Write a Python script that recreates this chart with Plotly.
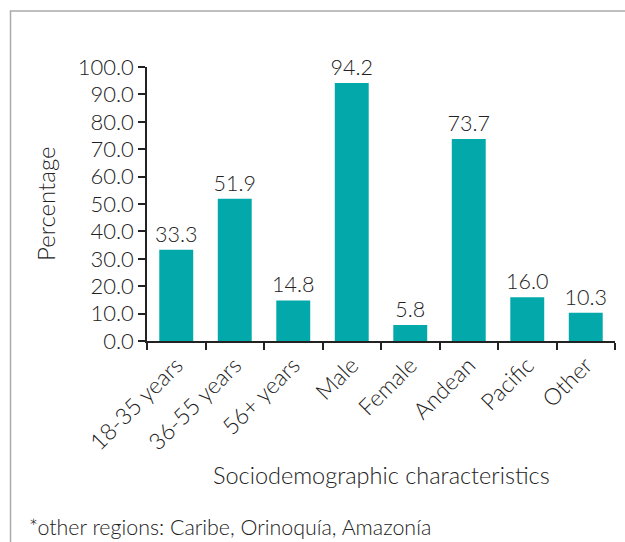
import plotly.graph_objects as go

categories = ["18-35 years", "36-55 years", "56+ years", "Male", "Female", "Andean", "Pacific", "Other"]
values = [33.3, 51.9, 14.8, 94.2, 5.8, 73.7, 16.0, 10.3]
y_ticks = [0, 10, 20, 30, 40, 50, 60, 70, 80, 90, 100]

FONT = "Lato"
TXT = "#222222"
WT = 300

W, H = 625, 542
L, R, T, B = 147, 10, 67, 201
pw = W - L - R
ph = H - T - B

def px_x(x):
    return (x - L) / pw

def px_y(y):
    return (H - B - y) / ph

fig = go.Figure(go.Bar(
    x=categories, y=values,
    marker=dict(color="#03A9AA", line=dict(width=0)),
    texttemplate="%{y:.1f}", textposition="outside", constraintext="none",
    textfont=dict(family=FONT, size=21.5, color=TXT, weight=WT),
    cliponaxis=False,
))

fig.update_layout(
    width=W, height=H,
    margin=dict(l=L, r=R, t=T, b=B),
    paper_bgcolor="white", plot_bgcolor="white",
    bargap=0.42,
    showlegend=False,
    font=dict(family=FONT, size=22, color=TXT, weight=WT),
)
fig.update_xaxes(
    showline=True, linecolor="#222", linewidth=1.5,
    ticks="outside", tickson="boundaries", ticklen=7, tickcolor="#222", tickwidth=1.5,
    tickangle=-45, tickfont=dict(family=FONT, size=23, color=TXT, weight=WT),
    showgrid=False,
)
fig.update_yaxes(
    range=[0, 100], tickvals=y_ticks, tickformat=".1f",
    showline=True, linecolor="#222", linewidth=1.5,
    ticks="outside", ticklen=7, tickcolor="#222", tickwidth=1.5,
    tickfont=dict(family=FONT, size=22, color=TXT, weight=WT),
    showgrid=False, zeroline=False,
)

fig.add_annotation(text="Sociodemographic characteristics", xref="paper", yref="paper",
                   x=0.5, y=px_y(475), showarrow=False,
                   font=dict(family=FONT, size=23.5, color=TXT, weight=WT), xanchor="center", yanchor="middle")
fig.add_annotation(text="Percentage", xref="paper", yref="paper",
                   x=px_x(45), y=0.5, textangle=-90, showarrow=False,
                   font=dict(family=FONT, size=24, color=TXT, weight=WT), xanchor="center", yanchor="middle")
fig.add_annotation(text="*other regions: Caribe, Orinoquía, Amazonía", xref="paper", yref="paper",
                   x=px_x(27), y=px_y(527), showarrow=False,
                   font=dict(family=FONT, size=21.4, color=TXT, weight=WT), xanchor="left", yanchor="middle")

fig.add_shape(type="path", xref="paper", yref="paper",
              path=f"M {px_x(10.5)} {px_y(560)} L {px_x(10.5)} {px_y(11)} L {px_x(640)} {px_y(11)}",
              line=dict(color="#AAAAAA", width=1.5))

fig.write_html("out.html")
